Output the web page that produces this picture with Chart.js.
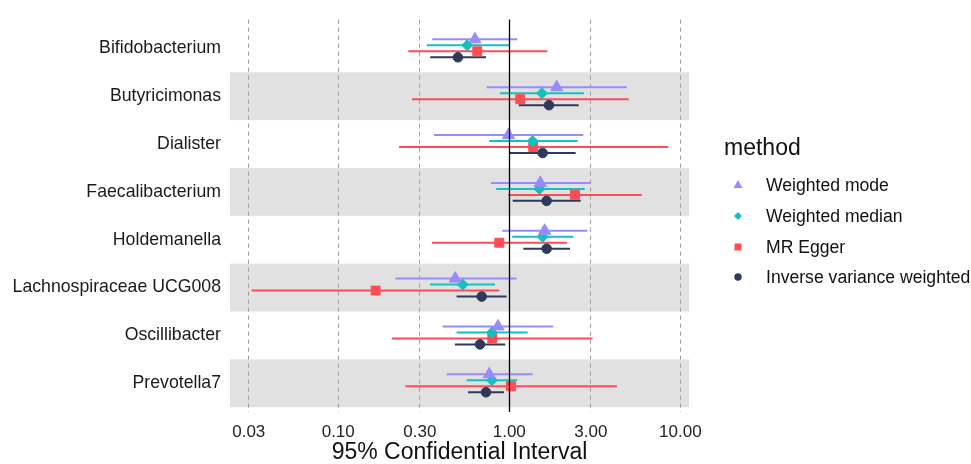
<!DOCTYPE html>
<html>
<head>
<meta charset="utf-8">
<script src="https://cdn.jsdelivr.net/npm/chart.js@4.4.1/dist/chart.umd.min.js"></script>
<style>
  html, body { margin: 0; padding: 0; background: #ffffff; }
  #wrap { position: relative; width: 971px; height: 464px; }
</style>
</head>
<body>
<div id="wrap"><canvas id="c" width="971" height="464"></canvas></div>
<script>
// ---------- data ----------
const categories = ['Bifidobacterium', 'Butyricimonas', 'Dialister', 'Faecalibacterium',
  'Holdemanella', 'Lachnospiraceae UCG008', 'Oscillibacter', 'Prevotella7'];
const methods = ['Weighted mode', 'Weighted median', 'MR Egger', 'Inverse variance weighted'];
const xTicks = [0.03, 0.10, 0.30, 1.00, 3.00, 10.00];

const modeEst   = [0.630, 1.893, 0.990, 1.518, 1.610, 0.483, 0.859, 0.764];
const modeLo    = [0.355, 0.738, 0.363, 0.782, 0.910, 0.216, 0.408, 0.430];
const modeHi    = [1.114, 4.860, 2.710, 2.990, 2.860, 1.104, 1.808, 1.370];

const medianEst = [0.568, 1.553, 1.370, 1.500, 1.567, 0.534, 0.792, 0.792];
const medianLo  = [0.329, 0.882, 0.764, 0.839, 1.041, 0.344, 0.492, 0.563];
const medianHi  = [1.000, 2.730, 2.510, 2.760, 2.370, 0.825, 1.281, 1.114];

const eggerEst  = [0.650, 1.160, 1.380, 2.420, 0.874, 0.1655, 0.796, 1.023];
const eggerLo   = [0.257, 0.270, 0.227, 0.987, 0.353, 0.0312, 0.206, 0.2465];
const eggerHi   = [1.668, 4.990, 8.510, 5.950, 2.180, 0.874, 3.070, 4.260];

const ivwEst    = [0.501, 1.707, 1.567, 1.654, 1.654, 0.690, 0.674, 0.731];
const ivwLo     = [0.345, 1.135, 1.010, 1.047, 1.208, 0.492, 0.481, 0.5735];
const ivwHi     = [0.731, 2.546, 2.445, 2.615, 2.265, 0.966, 0.948, 0.931];

// ---------- styling ----------
const FONT = "'Liberation Sans', Arial, sans-serif";
Chart.defaults.font.family = FONT;
const colors = ['#978cfb', '#17c0bd', '#fb4d56', '#2e3a59'];
const shapes = ['triangle', 'rectRot', 'rect', 'circle'];
const radii  = [7, 5.5, 6.3, 4.8];
const dodge  = [-0.1875, -0.0625, 0.0625, 0.1875];
const series = [
  [modeEst, modeLo, modeHi],
  [medianEst, medianLo, medianHi],
  [eggerEst, eggerLo, eggerHi],
  [ivwEst, ivwLo, ivwHi]
];

const datasets = [];
series.forEach((s, m) => {
  const [est, lo, hi] = s;
  const seg = [];
  categories.forEach((c, i) => {
    seg.push({ x: lo[i], y: i + dodge[m] });
    seg.push({ x: hi[i], y: i + dodge[m] });
    seg.push({ x: hi[i], y: null });
  });
  datasets.push({
    type: 'line', label: methods[m] + ' CI', data: seg,
    borderColor: colors[m], borderWidth: 2, pointRadius: 0, spanGaps: false,
    fill: false, order: 2
  });
});
series.forEach((s, m) => {
  const [est] = s;
  datasets.push({
    type: 'line', label: methods[m], showLine: false,
    data: est.map((v, i) => ({ x: v, y: i + dodge[m] })),
    pointStyle: shapes[m], pointRadius: radii[m],
    pointBackgroundColor: colors[m], pointBorderColor: colors[m], pointBorderWidth: 1,
    order: 1
  });
});

// background bands (drawn below grid)
const bandsPlugin = {
  id: 'bands',
  beforeDraw(chart) {
    const { ctx, chartArea, scales } = chart;
    const y = scales.y;
    ctx.save();
    ctx.fillStyle = '#e1e1e1';
    categories.forEach((c, i) => {
      if (i % 2 === 1) {
        const y1 = y.getPixelForValue(i - 0.5);
        const y2 = y.getPixelForValue(i + 0.5);
        ctx.fillRect(chartArea.left, Math.min(y1, y2), chartArea.right - chartArea.left, Math.abs(y2 - y1));
      }
    });
    ctx.restore();
  }
};

// reference line at 1
const refLinePlugin = {
  id: 'refLine',
  afterDatasetsDraw(chart) {
    const { ctx, chartArea, scales } = chart;
    const px = Math.round(scales.x.getPixelForValue(1)) + 0.5;
    ctx.save();
    ctx.strokeStyle = '#000000';
    ctx.lineWidth = 1.3;
    ctx.beginPath();
    ctx.moveTo(px, chartArea.top);
    ctx.lineTo(px, chartArea.bottom);
    ctx.stroke();
    ctx.restore();
  }
};

// legend drawn manually
const legendPlugin = {
  id: 'customLegend',
  afterDraw(chart) {
    const ctx = chart.ctx;
    ctx.save();
    ctx.fillStyle = '#111111';
    ctx.font = '23px ' + FONT;
    ctx.textBaseline = 'middle';
    ctx.textAlign = 'left';
    ctx.fillText('method', 724, 149);
    const ys = [185, 216, 247, 277];
    const sx = 738;
    methods.forEach((m, i) => {
      const yy = ys[i];
      ctx.fillStyle = colors[i];
      ctx.beginPath();
      if (shapes[i] === 'triangle') {
        ctx.moveTo(sx, yy - 5); ctx.lineTo(sx + 4.5, yy + 3); ctx.lineTo(sx - 4.5, yy + 3); ctx.closePath();
      } else if (shapes[i] === 'rectRot') {
        ctx.moveTo(sx, yy - 4); ctx.lineTo(sx + 4, yy); ctx.lineTo(sx, yy + 4); ctx.lineTo(sx - 4, yy); ctx.closePath();
      } else if (shapes[i] === 'rect') {
        ctx.rect(sx - 3.5, yy - 3.5, 7, 7);
      } else {
        ctx.arc(sx, yy, 3.7, 0, Math.PI * 2);
      }
      ctx.fill();
      ctx.fillStyle = '#111111';
      ctx.font = '17.6px ' + FONT;
      ctx.fillText(m, 766, yy + 1);
    });
    ctx.restore();
  }
};

new Chart(document.getElementById('c'), {
  type: 'line',
  data: { datasets },
  plugins: [bandsPlugin, refLinePlugin, legendPlugin],
  options: {
    responsive: false,
    animation: false,
    events: [],
    layout: { padding: { top: 18, right: 282, bottom: 0, left: 0 } },
    plugins: { legend: { display: false }, tooltip: { enabled: false } },
    scales: {
      x: {
        type: 'logarithmic', position: 'bottom',
        min: 0.0233, max: 11.24,
        afterBuildTicks: (s) => { s.ticks = xTicks.map(v => ({ value: v })); },
        afterFit: (s) => { s.height = 52; },
        grid: {
          color: (ctx) => (ctx.tick && ctx.tick.value === 1) ? 'rgba(0,0,0,0)' : '#9a9a9a',
          lineWidth: 1, drawTicks: false
        },
        border: { display: false, dash: [4, 4] },
        ticks: {
          autoSkip: false, maxRotation: 0, padding: 10,
          font: { size: 17 }, color: '#222222',
          callback: (v) => Number(v).toFixed(2)
        },
        title: {
          display: true, text: '95% Confidential Interval',
          font: { size: 23, lineHeight: 1.0 }, color: '#111111', padding: { top: 2, bottom: 0 }
        }
      },
      y: {
        type: 'linear', reverse: true, min: -0.6, max: 7.6,
        afterBuildTicks: (s) => { s.ticks = categories.map((c, i) => ({ value: i })); },
        afterFit: (s) => { s.width = 230; },
        grid: { display: false, drawTicks: false },
        border: { display: false },
        ticks: {
          autoSkip: false, padding: 9,
          font: { size: 17.7 }, color: '#1a1a1a',
          callback: (v) => categories[v]
        }
      }
    }
  }
});
</script>
</body>
</html>
